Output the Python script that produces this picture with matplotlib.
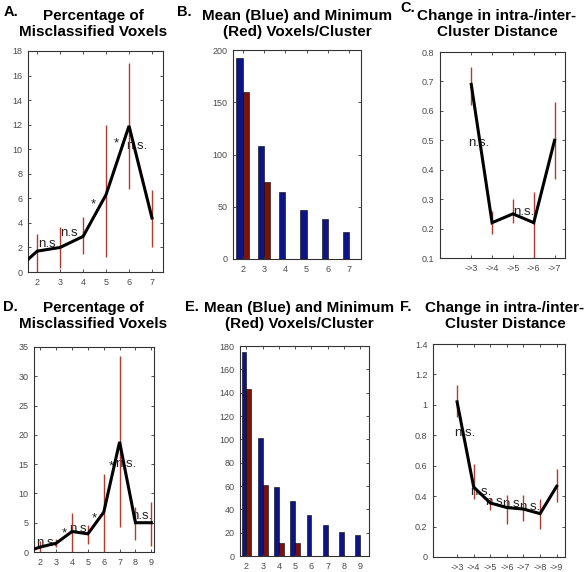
import matplotlib
matplotlib.use("Agg")
import matplotlib.pyplot as plt
from matplotlib.ticker import FormatStrFormatter

plt.rcParams["font.family"] = ["Liberation Sans", "DejaVu Sans"]

# ----- data -----------------------------------------------------------
# A: percentage of misclassified voxels (first data set)
K_A = [1, 2, 3, 4, 5, 6, 7]
PCT_A = [0.0, 1.7, 2.0, 2.9, 6.3, 11.9, 4.4]
PCT_A_LO = [0.0, 0.0, 0.3, 1.5, 1.2, 6.8, 2.0]
PCT_A_HI = [0.0, 3.1, 3.7, 4.5, 12.0, 17.0, 6.7]
ANN_A_X = [2.42, 3.38, 4.43, 5.43, 6.34]
ANN_A_Y = [2.25, 3.2, 5.5, 10.5, 10.3]
ANN_A_TXT = ["n.s", "n.s", "*", "*", "n.s."]

# B: mean (blue) and minimum (red) voxels per cluster
K_B = [2, 3, 4, 5, 6, 7]
MEAN_B = [192, 108, 64, 47, 38, 26]
MIN_B = [160, 74, 0, 0, 0, 0]

# C: change in intra-/inter-cluster distance
K_C = [3, 4, 5, 6, 7]
K_C_LABELS = ["->3", "->4", "->5", "->6", "->7"]
DIST_C = [0.69, 0.22, 0.25, 0.22, 0.50]
DIST_C_LO = [0.62, 0.18, 0.22, 0.05, 0.37]
DIST_C_HI = [0.75, 0.26, 0.30, 0.325, 0.63]
ANN_C_X = [3.38, 5.51]
ANN_C_Y = [0.492, 0.257]
ANN_C_TXT = ["n.s.", "n.s."]

# D: percentage of misclassified voxels (second data set)
K_D = [1, 2, 3, 4, 5, 6, 7, 8, 9]
PCT_D = [0.0, 0.85, 1.5, 3.5, 3.1, 6.8, 18.8, 5.0, 5.0]
PCT_D_LO = [0.0, 0.0, 0.8, 0.0, 1.4, 0.0, 4.3, 2.0, 1.1]
PCT_D_HI = [0.0, 1.8, 2.2, 6.7, 4.6, 13.4, 33.4, 7.7, 8.6]
ANN_D_X = [2.43, 3.49, 4.37, 5.42, 6.47, 7.42, 8.37]
ANN_D_Y = [1.5, 3.2, 4.0, 5.75, 14.6, 15.1, 6.1]
ANN_D_TXT = ["n.s.", "*", "n.s", "*", "*", "n.s.", "n.s."]

# E: mean (blue) and minimum (red) voxels per cluster
K_E = [2, 3, 4, 5, 6, 7, 8, 9]
MEAN_E = [175, 101, 59, 47, 35, 27, 21, 18]
MIN_E = [143, 61, 11, 11, 0, 0, 0, 0]

# F: change in intra-/inter-cluster distance
K_F = [3, 4, 5, 6, 7, 8, 9]
K_F_LABELS = ["->3", "->4", "->5", "->6", "->7", "->8", "->9"]
DIST_F = [1.02, 0.46, 0.355, 0.325, 0.315, 0.285, 0.465]
DIST_F_LO = [0.92, 0.38, 0.31, 0.22, 0.235, 0.185, 0.36]
DIST_F_HI = [1.13, 0.61, 0.39, 0.41, 0.41, 0.38, 0.58]
ANN_F_X = [3.47, 4.43, 5.34, 6.36, 7.38]
ANN_F_Y = [0.815, 0.43, 0.359, 0.348, 0.33]
ANN_F_TXT = ["n.s.", "n.s.", "n.s.", "n.s.", "n.s."]

# ----- layout (pixels: left, top, right, bottom) ----------------------
W, H = 585, 572
BOX = {
    "A": (28, 51, 163, 272),
    "B": (233, 50, 361, 259),
    "C": (440, 52, 565, 258),
    "D": (34, 347, 154, 552),
    "E": (240, 346, 369, 556),
    "F": (433, 344, 565, 557),
}
LINE_C = "black"
ERR_C = "#b03c30"
BLUE = "#0c1488"
RED = "#7a1208"
TICK_C = "#4a4a4a"


def fx(x):
    return x / W


def fy(y):
    return 1 - y / H


def make_ax(fig, key):
    l, t, r, b = BOX[key]
    ax = fig.add_axes([fx(l), fy(b), (r - l) / W, (b - t) / H])
    ax.tick_params(direction="in", top=True, right=True, length=2.5,
                   width=0.6, labelsize=6.5, labelcolor=TICK_C,
                   color="#333333", pad=4)
    for s in ax.spines.values():
        s.set_linewidth(0.8)
        s.set_color("#333333")
    return ax


def line_panel(ax, x, y, lo, hi, ann_x, ann_y, ann_txt):
    ax.vlines(x, lo, hi, color=ERR_C, linewidth=1.0, zorder=2, snap=True)
    for tx, ty, s in zip(ann_x, ann_y, ann_txt):
        ax.text(tx, ty, s, fontsize=9.5, color="#222222",
                ha="center", va="center", zorder=1)
    ax.plot(x, y, color=LINE_C, linewidth=2.2, zorder=3,
            solid_joinstyle="miter")


def bar_panel(ax, k, mean, mn):
    w = 0.3
    ax.bar([v - w / 2 for v in k], mean, width=w, color=BLUE,
           edgecolor="black", linewidth=0.4)
    ax.bar([v + w / 2 for v in k], mn, width=w, color=RED,
           edgecolor="black", linewidth=0.4)
    ax.set_xticks(k)


fig = plt.figure(figsize=(W / 100, H / 100), dpi=100)

# A
ax = make_ax(fig, "A")
line_panel(ax, K_A, PCT_A, PCT_A_LO, PCT_A_HI, ANN_A_X, ANN_A_Y, ANN_A_TXT)
ax.set_xlim(1.6, 7.48)
ax.set_ylim(0, 18)
ax.set_xticks(K_A[1:])
ax.set_yticks(range(0, 19, 2))

# B
ax = make_ax(fig, "B")
bar_panel(ax, K_B, MEAN_B, MIN_B)
ax.set_xlim(1.55, 7.55)
ax.set_ylim(0, 200)
ax.set_yticks(range(0, 201, 50))

# C
ax = make_ax(fig, "C")
line_panel(ax, K_C, DIST_C, DIST_C_LO, DIST_C_HI, ANN_C_X, ANN_C_Y, ANN_C_TXT)
ax.set_xlim(1.5, 7.5)
ax.set_ylim(0.1, 0.8)
ax.set_xticks(K_C)
ax.set_xticklabels(K_C_LABELS)
ax.set_yticks([0.1, 0.2, 0.3, 0.4, 0.5, 0.6, 0.7, 0.8])
ax.yaxis.set_major_formatter(FormatStrFormatter("%g"))

# D
ax = make_ax(fig, "D")
line_panel(ax, K_D, PCT_D, PCT_D_LO, PCT_D_HI, ANN_D_X, ANN_D_Y, ANN_D_TXT)
ax.set_xlim(1.6, 9.17)
ax.set_ylim(0, 35)
ax.set_xticks(K_D[1:])
ax.set_yticks(range(0, 36, 5))

# E
ax = make_ax(fig, "E")
bar_panel(ax, K_E, MEAN_E, MIN_E)
ax.set_xlim(1.6, 9.55)
ax.set_ylim(0, 180)
ax.set_yticks(range(0, 181, 20))

# F
ax = make_ax(fig, "F")
line_panel(ax, K_F, DIST_F, DIST_F_LO, DIST_F_HI, ANN_F_X, ANN_F_Y, ANN_F_TXT)
ax.set_xlim(1.55, 9.5)
ax.set_ylim(0, 1.4)
ax.set_xticks(K_F)
ax.set_xticklabels(K_F_LABELS)
ax.set_yticks([0, 0.2, 0.4, 0.6, 0.8, 1.0, 1.2, 1.4])
ax.yaxis.set_major_formatter(FormatStrFormatter("%g"))

# ----- titles and panel letters ---------------------------------------
title_kw = dict(fontsize=11, fontweight="bold", ha="center", va="center",
                linespacing=1.15)
letter_kw = dict(fontsize=10.5, fontweight="bold", ha="left", va="center")

fig.text(fx(93), fy(24), "Percentage of\nMisclassified Voxels", **title_kw)
fig.text(fx(297), fy(24), "Mean (Blue) and Minimum\n(Red) Voxels/Cluster", **title_kw)
fig.text(fx(497), fy(24), "Change in intra-/inter-\nCluster Distance", **title_kw)
fig.text(fx(93), fy(316), "Percentage of\nMisclassified Voxels", **title_kw)
fig.text(fx(299), fy(316), "Mean (Blue) and Minimum\n(Red) Voxels/Cluster", **title_kw)
fig.text(fx(505), fy(316), "Change in intra-/inter-\nCluster Distance", **title_kw)

fig.text(fx(4), fy(12), "A.", **letter_kw)
fig.text(fx(177), fy(12), "B.", **letter_kw)
fig.text(fx(400), fy(8), "C.", **letter_kw)
fig.text(fx(3), fy(307), "D.", **letter_kw)
fig.text(fx(185), fy(307), "E.", **letter_kw)
fig.text(fx(400), fy(307), "F.", **letter_kw)

fig.savefig("out.png", dpi=100, facecolor="white")
